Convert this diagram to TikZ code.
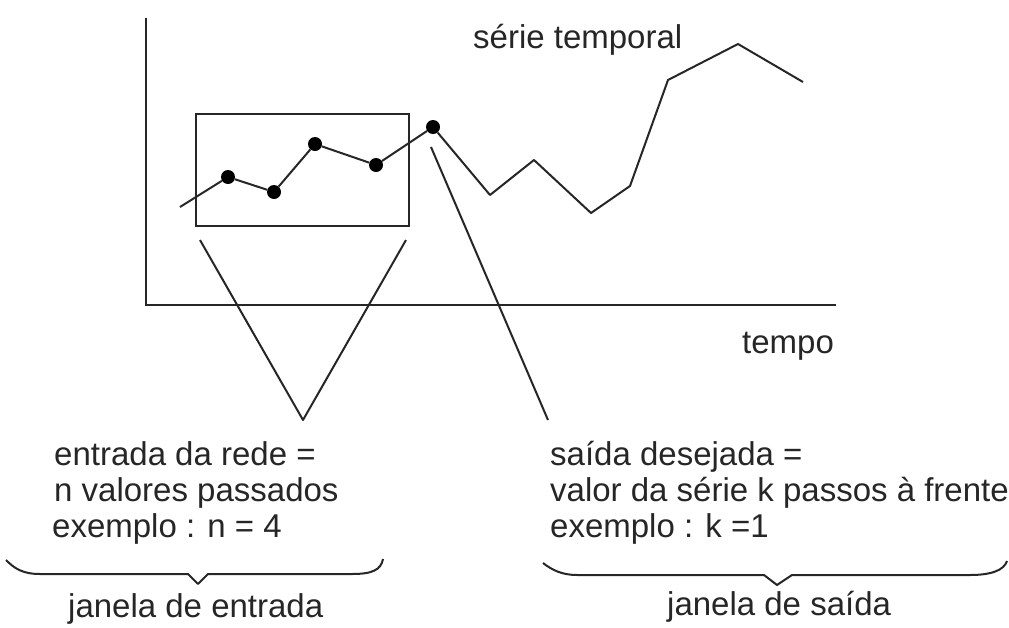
\documentclass[tikz,border=0pt]{standalone}
\usepackage{fontspec}
\setmainfont{Liberation Sans}
\begin{document}
\begin{tikzpicture}[x=1pt,y=-1pt,
  ln/.style={line width=2pt,black!85},
  dot/.style={circle,fill=black,inner sep=0pt,minimum size=14pt},
  txt/.style={anchor=base west,inner sep=0pt,text=black!85,font=\fontsize{33}{36}\selectfont}]
\useasboundingbox (0,0) rectangle (1009,627);
% axes
\coordinate (ytop) at (146,18);
\coordinate (org) at (146,305);
\coordinate (xend) at (836,305);
\draw[ln] (ytop) -- (org) -- (xend);
% input window
\node[ln,draw,rectangle,minimum width=213pt,minimum height=112pt,inner sep=0pt] (win) at (302.5,170) {};
% series
\coordinate (s0) at (180,207);
\node[dot] (p1) at (228,177) {};
\node[dot] (p2) at (274,192) {};
\node[dot] (p3) at (315,144) {};
\node[dot] (p4) at (376,165) {};
\node[dot] (p5) at (433,127) {};
\coordinate (s6) at (490,195);
\coordinate (s7) at (534,160);
\coordinate (s8) at (591,213);
\coordinate (s9) at (630,186);
\coordinate (s10) at (668,80);
\coordinate (s11) at (738,44);
\coordinate (s12) at (803,82);
\draw[ln,line join=round] (s0) -- (p1) -- (p2) -- (p3) -- (p4) -- (p5) -- (s6) -- (s7) -- (s8) -- (s9) -- (s10) -- (s11) -- (s12);
% labels
\node[txt] (serie) at (473,48) {série temporal};
\node[txt] (tempo) at (742,353) {tempo};
% V lines from window
\coordinate (vl) at (200,240);
\coordinate (vr) at (406,240);
\coordinate (vt) at (303,420);
\draw[ln,line join=round] (vl) -- (vt) -- (vr);
% line from output point
\coordinate (o1) at (431,147);
\coordinate (o2) at (548,420);
\draw[ln] (o1) -- (o2);
% left text
\node[txt] (l1) at (54,465) {entrada da rede =};
\node[txt] (l2) at (54,501) {n valores passados};
\node[txt] (l3) at (52,537) {exemplo : n = 4};
% right text
\node[txt] (r1) at (550,465) {saída desejada =};
\node[txt] (r2) at (550,501) {valor da série k passos à frente};
\node[txt] (r3) at (550,537) {exemplo : k =1};
% braces
\coordinate (lb0) at (6,560);
\coordinate (lb1) at (40,574);
\coordinate (lb2) at (188,574);
\coordinate (lbt) at (198,584);
\coordinate (lb3) at (208,574);
\coordinate (lb4) at (352,574);
\coordinate (lb5) at (383,559);
\draw[ln,line join=round] (lb0) .. controls (14,568) and (22,574) .. (lb1) -- (lb2) -- (lbt) -- (lb3) -- (lb4) .. controls (372,574) and (381,570) .. (lb5);
\coordinate (rb0) at (543,563);
\coordinate (rb1) at (577,575);
\coordinate (rb2) at (764,575);
\coordinate (rbt) at (777,585);
\coordinate (rb3) at (792,575);
\coordinate (rb4) at (970,575);
\coordinate (rb5) at (1007,561);
\draw[ln,line join=round] (rb0) .. controls (552,570) and (562,575) .. (rb1) -- (rb2) -- (rbt) -- (rb3) -- (rb4) .. controls (992,575) and (1004,570) .. (rb5);
\node[txt] (jin) at (68,617) {janela de entrada};
\node[txt] (jout) at (667,615) {janela de saída};
\end{tikzpicture}
\end{document}
